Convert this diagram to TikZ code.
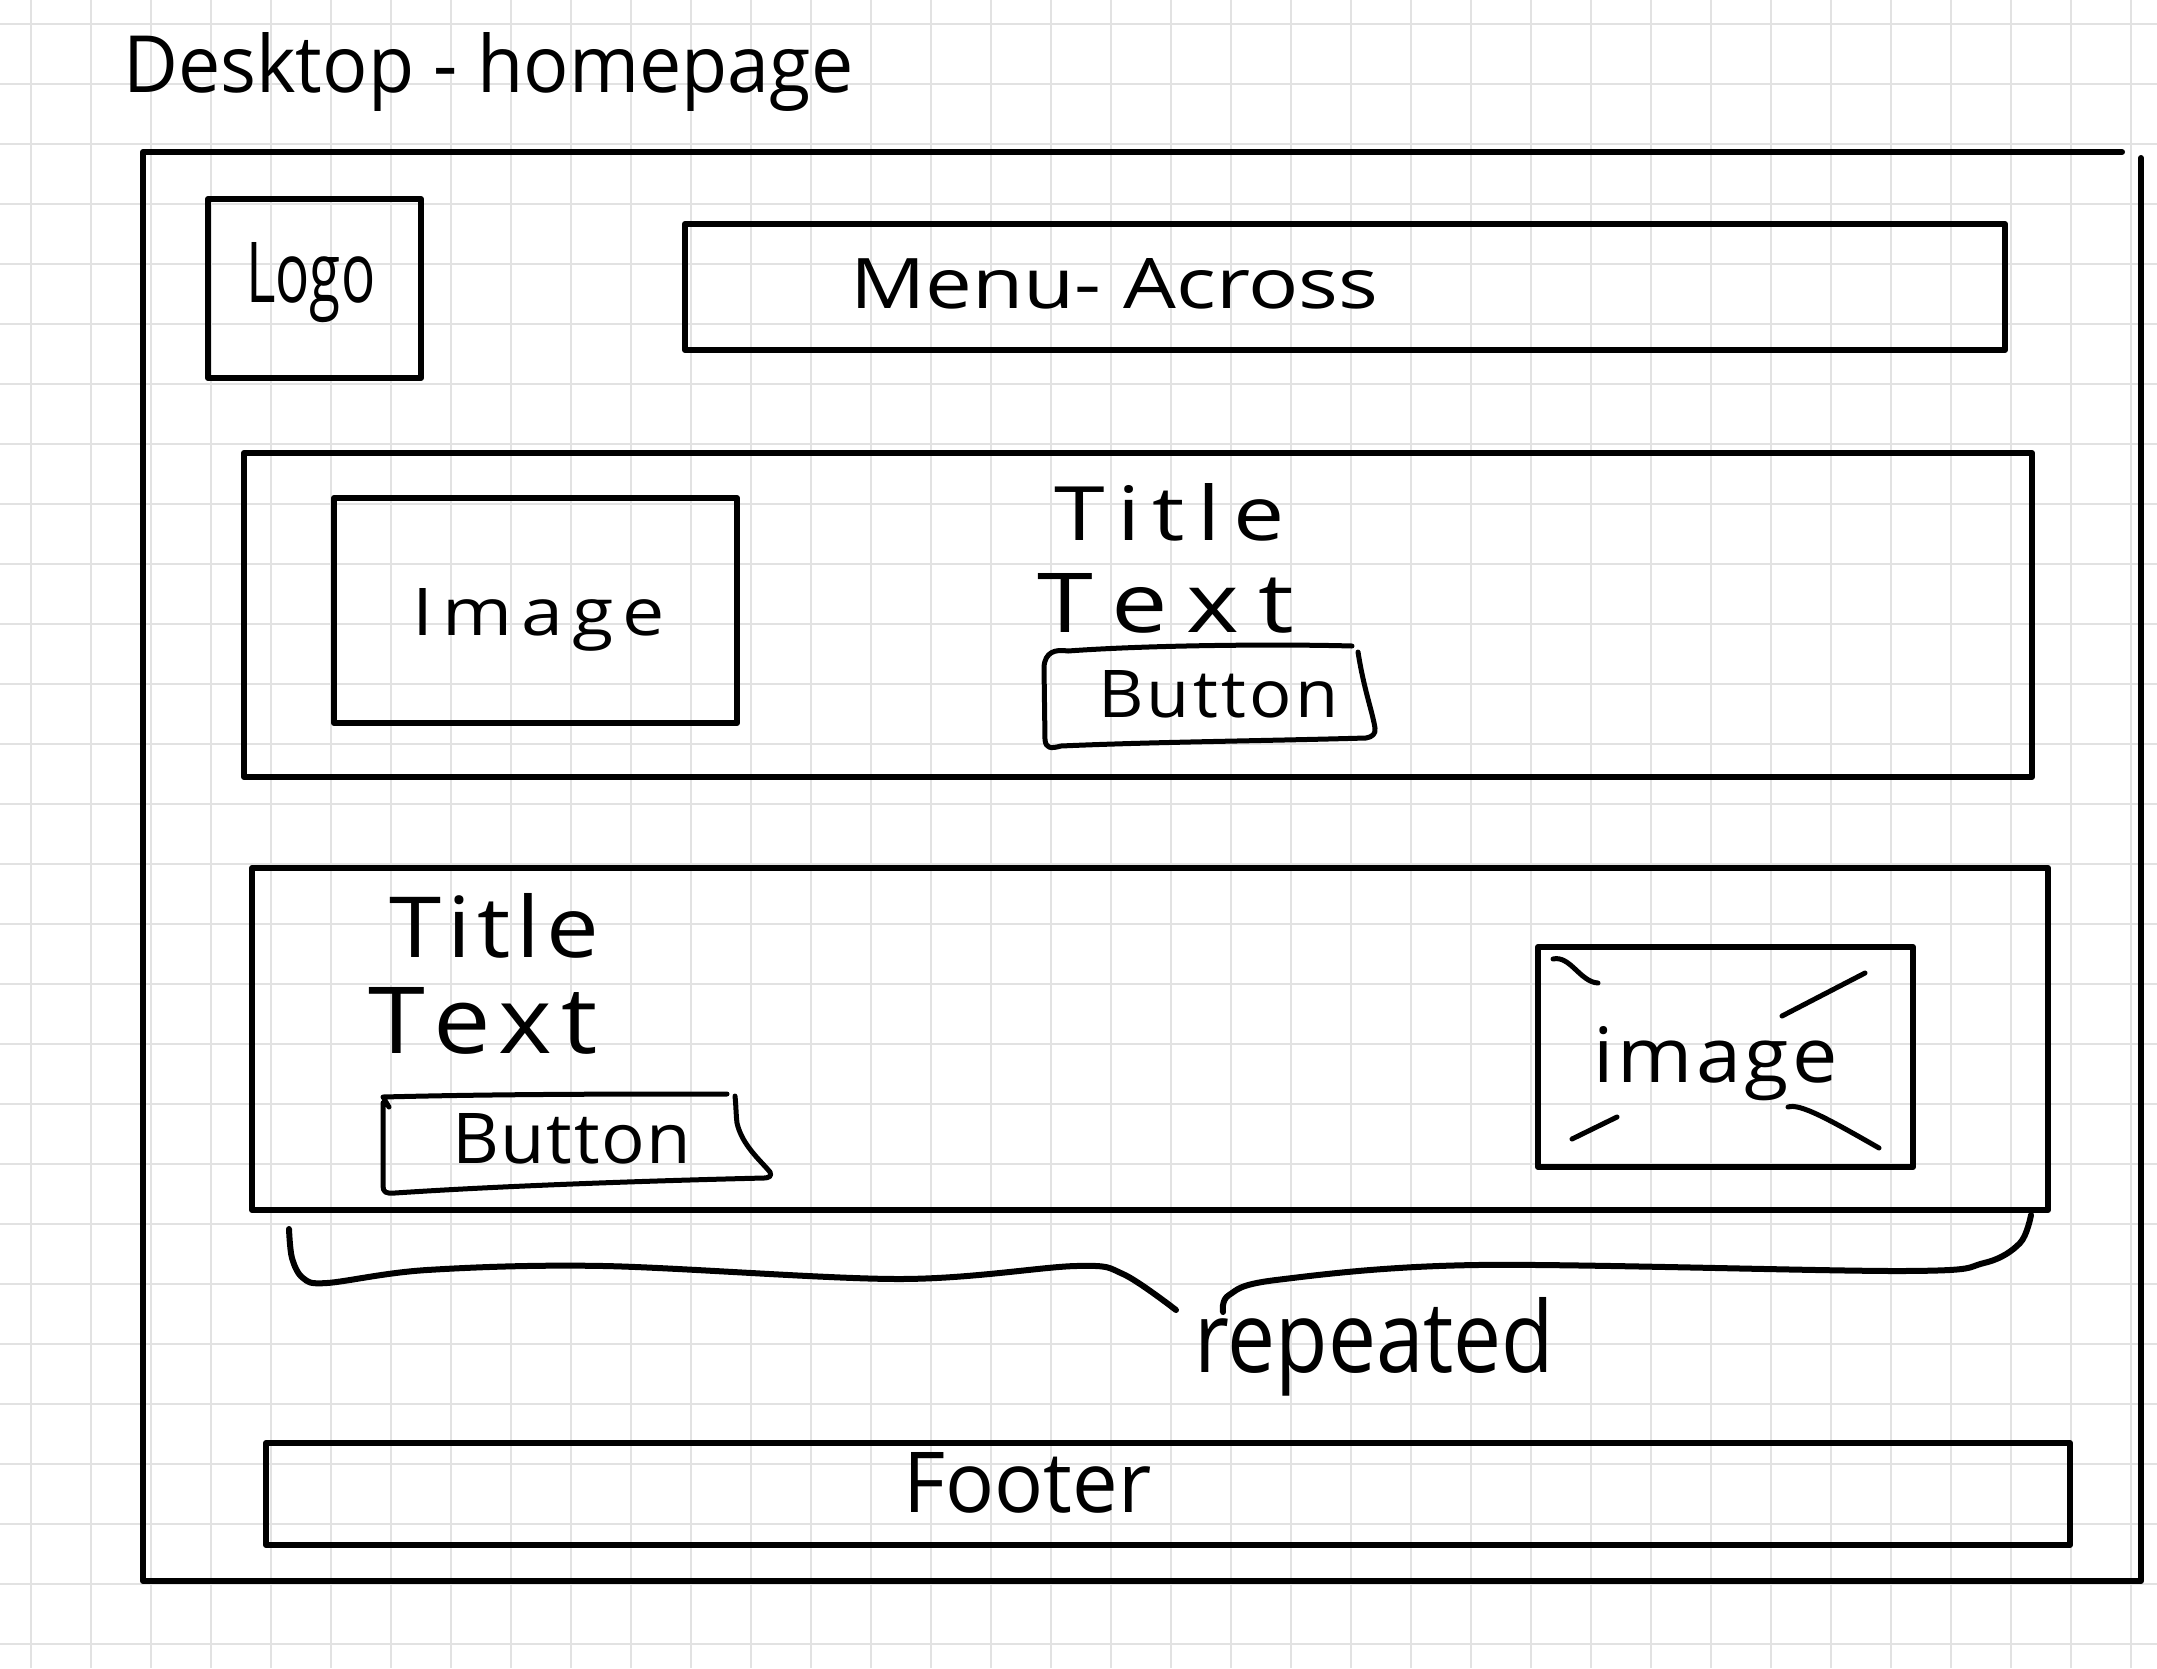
\documentclass[tikz,border=0pt]{standalone}
\usepackage{fontspec}
\setmainfont{Open Sans}
\definecolor{gridgray}{RGB}{226,226,226}
% scale a word to a given width and height (in pt)
\newcommand{\hw}[3]{\resizebox{#1pt}{#2pt}{#3}}
% scale a word to a given width and height, half by letter spacing, half by stretching
\newlength\hwh
\newlength\hww
\newcommand{\spreadword}[3]{%
  \settoheight{\hwh}{#3}%
  \settowidth{\hww}{#3}%
  \resizebox{#1pt}{#2pt}{\makebox[\dimexpr (#1\hwh/#2 + \hww)/2\relax][s]{#3}}}
\begin{document}
\begin{tikzpicture}[x=1pt,y=-1pt,
  ink/.style={line width=6pt, line cap=round, line join=round, draw=black},
  thinink/.style={line width=5pt, line cap=round, line join=round, draw=black},
  gridline/.style={line width=2.5pt, draw=gridgray},
  word/.style={inner sep=0pt, anchor=base west, text=black},
]
% page and squared paper
\fill[white] (0,0) rectangle (2157,1668);
\useasboundingbox (0,0) rectangle (2157,1668);
\foreach \gx in {0,...,35} \draw[gridline] (31+60*\gx,0) -- (31+60*\gx,1668);
\foreach \gy in {0,...,27} \draw[gridline] (0,24+60*\gy) -- (2157,24+60*\gy);

% heading
\node[word] (heading) at (123,92) {\hw{730}{60}{Desktop - homepage}};

% browser frame
\draw[ink] (2122,152) -- (143,152) -- (143,1581) -- (2141,1581) -- (2141,158);

% header: logo and menu
\draw[ink] (208,199) rectangle (421,378);
\node[word] (logo) at (246,302) {\hw{129}{60}{Logo}};
\draw[ink] (685,224) rectangle (2005,350);
\node[word] (menu) at (850,308) {\hw{528}{50}{Menu- Across}};

% hero section
\draw[ink] (244,453) rectangle (2032,777);
\draw[ink] (334,498) rectangle (737,723);
\node[word] (heroimage) at (412,635) {\spreadword{253}{47}{I\hfil m\hfil a\hfil g\hfil e}};
\node[word] (herotitle) at (1054,540) {\spreadword{230}{57}{T\hfil i\hfil t\hfil l\hfil e}};
\node[word] (herotext) at (1037,632) {\spreadword{257}{59}{T\hfil e\hfil x\hfil t}};
\draw[thinink] (1044,667) .. controls (1045,652) and (1055,649) .. (1068,651)
  .. controls (1150,645) and (1280,644) .. (1352,646)
  (1358,652) .. controls (1364,690) and (1372,710) .. (1375,728)
  .. controls (1376,734) and (1372,737) .. (1366,738)
  .. controls (1260,741) and (1150,742) .. (1061,746)
  .. controls (1050,749) and (1046,748) .. (1045,740) -- (1044,667);
\node[word] (herobutton) at (1098,717) {\spreadword{240}{47}{B\hfil u\hfil t\hfil t\hfil o\hfil n}};

% feature section (repeated block)
\draw[ink] (252,868) rectangle (2048,1210);
\node[word] (feattitle) at (389,957) {\spreadword{210}{64}{T\hfil i\hfil t\hfil l\hfil e}};
\node[word] (feattext) at (368,1053) {\spreadword{229}{66}{T\hfil e\hfil x\hfil t}};
\draw[thinink] (383,1097) .. controls (500,1094) and (620,1094) .. (727,1094)
  (389,1107) -- (384,1099)
  (735,1096) .. controls (736,1105) and (736,1115) .. (737,1123)
  .. controls (742,1145) and (760,1160) .. (770,1172)
  .. controls (772,1176) and (769,1178) .. (764,1178)
  .. controls (640,1181) and (500,1186) .. (395,1193)
  .. controls (386,1194) and (383,1192) .. (383,1186) -- (383,1103);
\node[word] (featbutton) at (452,1163) {\spreadword{239}{50}{B\hfil u\hfil t\hfil t\hfil o\hfil n}};
\draw[ink] (1538,947) rectangle (1913,1167);
\draw[thinink] (1553,959) .. controls (1570,955) and (1580,982) .. (1598,983);
\draw[thinink] (1782,1016) -- (1865,973);
\draw[thinink] (1572,1139) -- (1617,1117);
\draw[thinink] (1788,1107) .. controls (1800,1103) and (1830,1120) .. (1879,1148);
\node[word] (featimage) at (1593,1082) {\spreadword{245}{56}{i\hfil m\hfil a\hfil g\hfil e}};

% brace marking the repeated block
\draw[ink] plot[smooth, tension=0.55] coordinates {(289,1229) (292,1258) (303,1278) (327,1283) (427,1270) (604,1266) (899,1279) (1076,1266) (1123,1274) (1176,1310)};
\draw[ink] plot[smooth, tension=0.55] coordinates {(1223,1312) (1229,1295) (1276,1280) (1477,1265) (1902,1271) (1984,1263) (2020,1243) (2031,1215)};
\node[word] (repeated) at (1194,1372) {\hw{360}{75}{repeated}};

% footer
\draw[ink] (266,1443) rectangle (2070,1545);
\node[word] (footer) at (903,1512) {\hw{248}{60}{Footer}};
\end{tikzpicture}
\end{document}
